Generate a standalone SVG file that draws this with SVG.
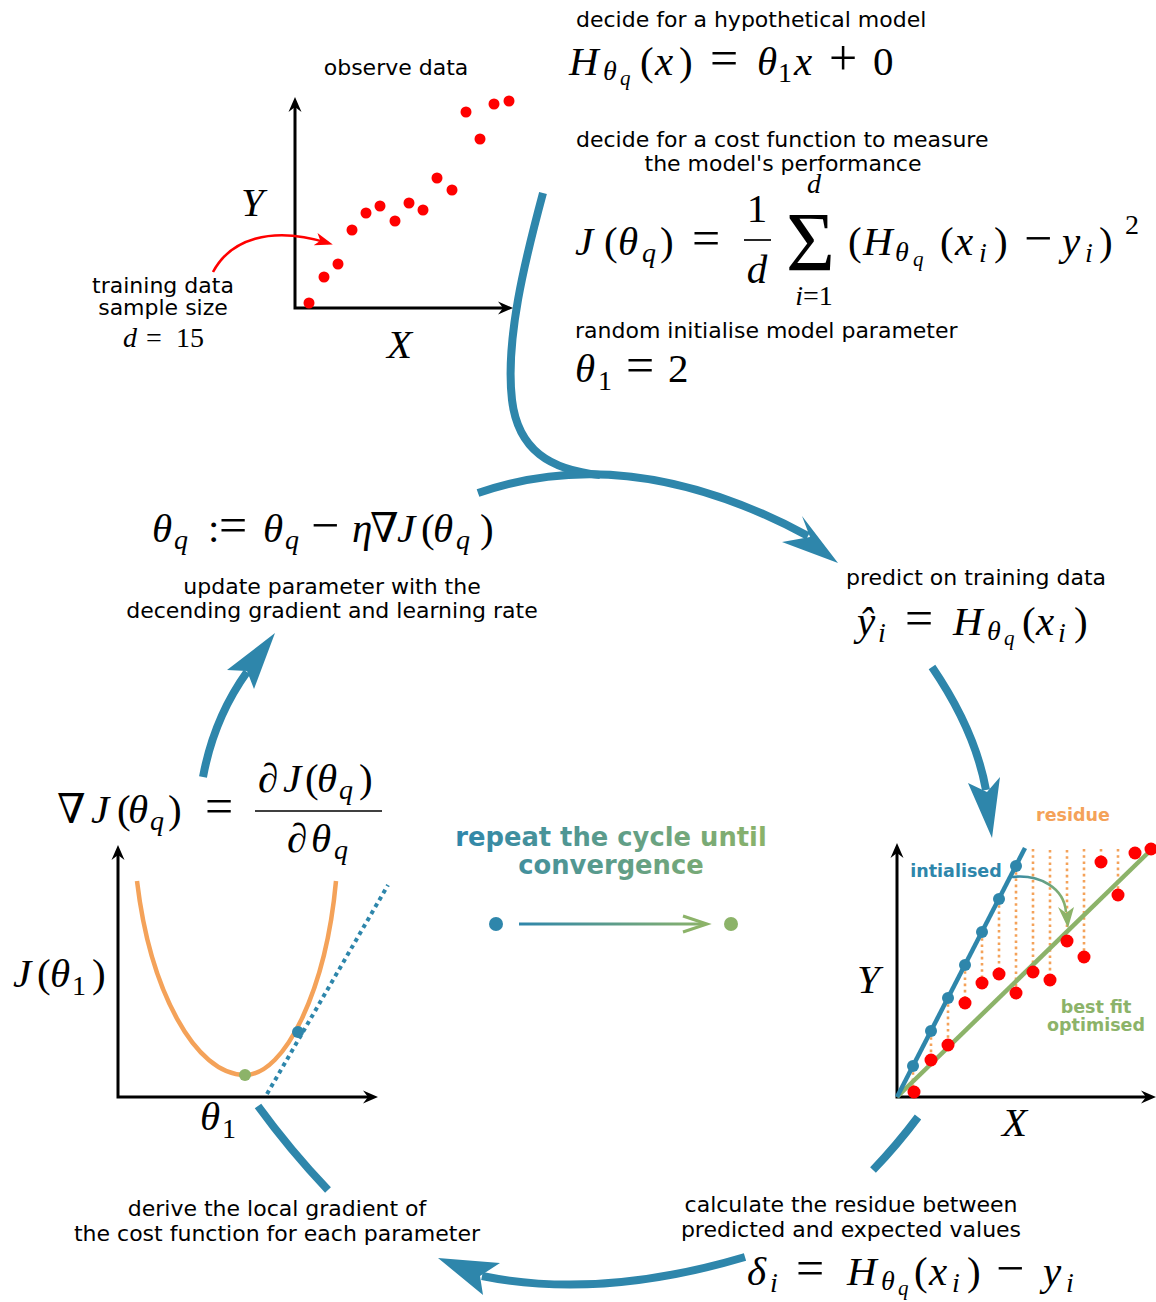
<svg xmlns="http://www.w3.org/2000/svg" width="1156" height="1302" viewBox="0 0 1156 1302">
<defs>
<style>
.t{font-family:"DejaVu Sans",sans-serif;font-size:22px;fill:#000}
.c{text-anchor:middle}
.m{font-family:"Liberation Serif","DejaVu Serif",serif;font-size:41px;fill:#000}
.i{font-style:italic}
.s{font-size:28px}
.ss{font-size:21px}
.op{font-size:50px}
.b{font-family:"DejaVu Sans",sans-serif;font-weight:bold;font-size:17.5px}
.rp{font-family:"DejaVu Sans",sans-serif;font-weight:bold;font-size:25.8px;text-anchor:middle}
.ax{stroke:#000;stroke-width:3;fill:none;marker-start:url(#ahs);marker-end:url(#ah)}
.flow{stroke:#2e86ab;stroke-width:8;fill:none}
.head{fill:#2e86ab}
.res{stroke:#f4a259;stroke-width:2.6;stroke-dasharray:2.6 3.6}
.rd{fill:#ff0000}
.bd{fill:#2e86ab}
</style>
<marker id="ah" viewBox="-8 -8 20 16" refX="0" refY="0" markerWidth="20" markerHeight="16" markerUnits="userSpaceOnUse" orient="auto">
<path d="M10,0 L-5,-6.5 L0,0 L-5,6.5 Z" fill="#000"/>
</marker>
<marker id="ahs" viewBox="-8 -8 20 16" refX="0" refY="0" markerWidth="20" markerHeight="16" markerUnits="userSpaceOnUse" orient="auto-start-reverse">
<path d="M10,0 L-5,-6.5 L0,0 L-5,6.5 Z" fill="#000"/>
</marker>
<marker id="rah" viewBox="-14 -8 24 16" refX="0" refY="0" markerWidth="24" markerHeight="16" markerUnits="userSpaceOnUse" orient="auto">
<path d="M5,0 L-13,-6.5 L-8,0 L-13,6.5 Z" fill="#ff0000"/>
</marker>
<linearGradient id="gt" gradientUnits="userSpaceOnUse" x1="455" y1="0" x2="768" y2="0">
<stop offset="0" stop-color="#2e86ab"/><stop offset="1" stop-color="#8cb369"/>
</linearGradient>
<linearGradient id="gl" gradientUnits="userSpaceOnUse" x1="519" y1="0" x2="708" y2="0">
<stop offset="0" stop-color="#2e86ab"/><stop offset="1" stop-color="#8cb369"/>
</linearGradient>
<linearGradient id="gc" gradientUnits="userSpaceOnUse" x1="1012" y1="0" x2="1068" y2="0">
<stop offset="0" stop-color="#2e86ab"/><stop offset="1" stop-color="#8cb369"/>
</linearGradient>
</defs>
<rect width="1156" height="1302" fill="#fff"/>

<g id="connectors">
<path class="flow" d="M543,193 C525,260 505,340 512,400 C518,450 550,470 600,475"/>
<path class="flow" d="M478,493 Q630,440 808,536"/>
<polygon class="head" points="838,563 802,516 810,537 782,542"/>
<path class="flow" d="M932,667 Q975,730 986,790"/>
<polygon class="head" points="992,838 968,783 987,792 1000,777"/>
<path class="flow" d="M918,1117 Q897,1145 873,1170"/>
<path class="flow" d="M745,1257 Q600,1300 482,1276"/>
<polygon class="head" points="438,1258 500,1263 480,1276 483,1295"/>
<path class="flow" d="M258,1106 Q290,1150 328,1190"/>
<path class="flow" d="M203,777 Q214,718 247,672"/>
<polygon class="head" points="275,633 227,670 247,671 254,689"/>
</g>

<g id="observe-data">
<text class="t c" x="396" y="75">observe data</text>
<path class="ax" d="M295,107 L295,308 L503,308"/>
<text class="m i" x="241" y="216">Y</text>
<text class="m i" x="387" y="358">X</text>
<g class="rd">
<circle cx="309" cy="303" r="5.5"/><circle cx="324" cy="277" r="5.5"/><circle cx="338" cy="264" r="5.5"/>
<circle cx="352" cy="230" r="5.5"/><circle cx="366" cy="213" r="5.5"/><circle cx="380" cy="206" r="5.5"/>
<circle cx="395" cy="221" r="5.5"/><circle cx="409" cy="203" r="5.5"/><circle cx="423" cy="210" r="5.5"/>
<circle cx="437" cy="178" r="5.5"/><circle cx="452" cy="190" r="5.5"/><circle cx="466" cy="112" r="5.5"/>
<circle cx="480" cy="139" r="5.5"/><circle cx="494" cy="104" r="5.5"/><circle cx="509" cy="101" r="5.5"/>
</g>
<path d="M213,272 C230,240 270,225 328,243" stroke="#ff0000" stroke-width="2.6" fill="none" marker-end="url(#rah)"/>
<text class="t c" x="163" y="293">training data</text>
<text class="t c" x="163" y="315">sample size</text>
<text class="m s" y="347"><tspan class="i" x="123">d</tspan><tspan x="146">=</tspan><tspan x="176">15</tspan></text>
</g>

<g id="hypothesis">
<text class="t" x="576" y="27">decide for a hypothetical model</text>
<text class="m" y="75"><tspan class="i" x="569">H</tspan><tspan class="i s" x="603" y="80">θ</tspan><tspan class="i ss" x="620" y="85">q</tspan><tspan x="640" y="75">(</tspan><tspan class="i" x="655">x</tspan><tspan x="679">)</tspan><tspan class="op" x="710">=</tspan><tspan class="i" x="757">θ</tspan><tspan class="s" x="778" y="82">1</tspan><tspan class="i" x="794" y="75">x</tspan><tspan class="op" x="829">+</tspan><tspan x="873">0</tspan></text>
</g>

<g id="cost-function">
<text class="t" x="576" y="147">decide for a cost function to measure</text>
<text class="t c" x="783" y="171">the model's performance</text>
<text class="m" y="255"><tspan class="i" x="575">J</tspan><tspan x="604">(</tspan><tspan class="i" x="618">θ</tspan><tspan class="i s" x="642" y="262">q</tspan><tspan x="660" y="255">)</tspan><tspan class="op" x="692">=</tspan></text>
<text class="m c" x="757" y="222">1</text>
<line x1="744" y1="240" x2="771" y2="240" stroke="#000" stroke-width="1.7"/>
<text class="m c i" x="757" y="283">d</text>
<text class="m" x="786" y="271" style="font-size:84px">Σ</text>
<text class="m s i c" x="814" y="193">d</text>
<text class="m s c" x="814" y="305"><tspan class="i">i</tspan>=1</text>
<text class="m" y="255"><tspan x="848">(</tspan><tspan class="i" x="863">H</tspan><tspan class="i s" x="895" y="261">θ</tspan><tspan class="i ss" x="913" y="266">q</tspan><tspan x="940" y="255">(</tspan><tspan class="i" x="955">x</tspan><tspan class="i s" x="979" y="262">i</tspan><tspan x="994" y="255">)</tspan><tspan class="op" x="1024">−</tspan><tspan class="i" x="1062">y</tspan><tspan class="i s" x="1085" y="262">i</tspan><tspan x="1099" y="255">)</tspan><tspan class="s" x="1125" y="234">2</tspan></text>
</g>

<g id="initialise">
<text class="t" x="575" y="338">random initialise model parameter</text>
<text class="m" y="382"><tspan class="i" x="575">θ</tspan><tspan class="s" x="598" y="390">1</tspan><tspan class="op" x="626" y="382">=</tspan><tspan x="668">2</tspan></text>
</g>

<g id="predict">
<text class="t" x="846" y="585">predict on training data</text>
<text class="m" y="635"><tspan class="i" x="857">ŷ</tspan><tspan class="i s" x="878" y="642">i</tspan><tspan class="op" x="905" y="635">=</tspan><tspan class="i" x="953">H</tspan><tspan class="i s" x="987" y="640">θ</tspan><tspan class="i ss" x="1004" y="645">q</tspan><tspan x="1022" y="635">(</tspan><tspan class="i" x="1036">x</tspan><tspan class="i s" x="1058" y="642">i</tspan><tspan x="1074" y="635">)</tspan></text>
</g>

<g id="residue-plot">
<path class="ax" d="M897,853 L897,1097 L1146,1097"/>
<text class="m i" x="857" y="993">Y</text>
<text class="m i" x="1002" y="1136">X</text>
<g>
<line class="res" x1="913" y1="1066" x2="913" y2="1092"/>
<line class="res" x1="931" y1="1031" x2="931" y2="1060"/>
<line class="res" x1="948" y1="998" x2="948" y2="1045"/>
<line class="res" x1="965" y1="965" x2="965" y2="1003"/>
<line class="res" x1="982" y1="932" x2="982" y2="983"/>
<line class="res" x1="999" y1="899" x2="999" y2="974"/>
<line class="res" x1="1016" y1="866" x2="1016" y2="993"/>
<line class="res" x1="1033" y1="849" x2="1033" y2="972"/>
<line class="res" x1="1050" y1="850" x2="1050" y2="980"/>
<line class="res" x1="1067" y1="850" x2="1067" y2="941"/>
<line class="res" x1="1084" y1="849" x2="1084" y2="957"/>
<line class="res" x1="1101" y1="849" x2="1101" y2="862"/>
<line class="res" x1="1118" y1="849" x2="1118" y2="895"/>
</g>
<line x1="897" y1="1097" x2="1153" y2="848" stroke="#8cb369" stroke-width="4.5"/>
<line x1="897" y1="1097" x2="1025" y2="848" stroke="#2e86ab" stroke-width="4.5"/>
<g class="bd">
<circle cx="913" cy="1066" r="6"/><circle cx="931" cy="1031" r="6"/><circle cx="948" cy="998" r="6"/>
<circle cx="965" cy="965" r="6"/><circle cx="982" cy="932" r="6"/><circle cx="999" cy="899" r="6"/>
<circle cx="1016" cy="866" r="6"/>
</g>
<g class="rd">
<circle cx="914" cy="1092" r="6.5"/><circle cx="931" cy="1060" r="6.5"/><circle cx="948" cy="1045" r="6.5"/>
<circle cx="965" cy="1003" r="6.5"/><circle cx="982" cy="983" r="6.5"/><circle cx="999" cy="974" r="6.5"/>
<circle cx="1016" cy="993" r="6.5"/><circle cx="1033" cy="972" r="6.5"/><circle cx="1050" cy="980" r="6.5"/>
<circle cx="1067" cy="941" r="6.5"/><circle cx="1084" cy="957" r="6.5"/><circle cx="1101" cy="862" r="6.5"/>
<circle cx="1118" cy="895" r="6.5"/><circle cx="1135" cy="853" r="6.5"/><circle cx="1151" cy="849" r="6.5"/>
</g>
<path d="M1012,877 C1040,874 1064,888 1066,912" stroke="url(#gc)" stroke-width="2.6" fill="none"/>
<polygon points="1068,928 1058,907 1066,913 1074,907" fill="#8cb369"/>
<text class="b c" x="1073" y="821" fill="#f4a259">residue</text>
<text class="b c" x="956" y="877" fill="#2e86ab">intialised</text>
<text class="b c" x="1096" y="1013" fill="#8cb369">best fit</text>
<text class="b c" x="1096" y="1031" fill="#8cb369">optimised</text>
</g>

<g id="residue">
<text class="t c" x="851" y="1212">calculate the residue between</text>
<text class="t c" x="851" y="1237">predicted and expected values</text>
<text class="m" y="1285"><tspan class="i" x="747">δ</tspan><tspan class="i s" x="770" y="1292">i</tspan><tspan class="op" x="796" y="1285">=</tspan><tspan class="i" x="847">H</tspan><tspan class="i s" x="881" y="1290">θ</tspan><tspan class="i ss" x="898" y="1295">q</tspan><tspan x="914" y="1285">(</tspan><tspan class="i" x="929">x</tspan><tspan class="i s" x="952" y="1292">i</tspan><tspan x="967" y="1285">)</tspan><tspan class="op" x="996">−</tspan><tspan class="i" x="1043">y</tspan><tspan class="i s" x="1066" y="1292">i</tspan></text>
</g>

<g id="gradient">
<text class="t c" x="277" y="1216">derive the local gradient of</text>
<text class="t c" x="277" y="1241">the cost function for each parameter</text>
<text class="m" y="823"><tspan x="57">∇</tspan><tspan class="i" x="91">J</tspan><tspan x="117">(</tspan><tspan class="i" x="128">θ</tspan><tspan class="i s" x="150" y="830">q</tspan><tspan x="168" y="823">)</tspan><tspan class="op" x="205">=</tspan></text>
<text class="m" y="792"><tspan class="i" x="258">∂</tspan><tspan class="i" x="283">J</tspan><tspan x="305">(</tspan><tspan class="i" x="317">θ</tspan><tspan class="i s" x="339" y="799">q</tspan><tspan x="359" y="792">)</tspan></text>
<line x1="255" y1="811" x2="382" y2="811" stroke="#000" stroke-width="1.7"/>
<text class="m" y="852"><tspan class="i" x="287">∂</tspan><tspan class="i" x="311">θ</tspan><tspan class="i s" x="334" y="859">q</tspan></text>
<path class="ax" d="M118,855 L118,1097 L368,1097"/>
<text class="m" y="987"><tspan class="i" x="13">J</tspan><tspan x="37">(</tspan><tspan class="i" x="50">θ</tspan><tspan class="s" x="72" y="995">1</tspan><tspan x="92" y="987">)</tspan></text>
<text class="m" y="1130"><tspan class="i" x="200">θ</tspan><tspan class="s" x="222" y="1138">1</tspan></text>
<path d="M137,881 C150,990 195,1075 245,1075 C285,1075 326,990 336,881" stroke="#f4a259" stroke-width="4.5" fill="none"/>
<line x1="267" y1="1094" x2="388" y2="885" stroke="#2e86ab" stroke-width="4" stroke-dasharray="4 4"/>
<circle cx="298" cy="1032" r="6" fill="#2e86ab"/>
<circle cx="245" cy="1075" r="6" fill="#8cb369"/>
</g>

<g id="update">
<text class="m" y="542"><tspan class="i" x="152">θ</tspan><tspan class="i s" x="174" y="549">q</tspan><tspan x="208" y="542">:</tspan><tspan class="op" x="219">=</tspan><tspan class="i" x="263">θ</tspan><tspan class="i s" x="285" y="549">q</tspan><tspan class="op" x="311" y="542">−</tspan><tspan class="i" x="352">η</tspan><tspan x="370">∇</tspan><tspan class="i" x="397">J</tspan><tspan x="421">(</tspan><tspan class="i" x="433">θ</tspan><tspan class="i s" x="456" y="549">q</tspan><tspan x="480" y="542">)</tspan></text>
<text class="t c" x="332" y="594">update parameter with the</text>
<text class="t c" x="332" y="618">decending gradient and learning rate</text>
</g>

<g id="repeat">
<text class="rp" x="611" y="846" fill="url(#gt)">repeat the cycle until</text>
<text class="rp" x="611" y="874" fill="url(#gt)">convergence</text>
<circle cx="496" cy="924" r="7" fill="#2e86ab"/>
<circle cx="731" cy="924" r="7" fill="#8cb369"/>
<line x1="519" y1="924" x2="706" y2="924" stroke="url(#gl)" stroke-width="3"/>
<polyline points="683,916 707,924 683,932" stroke="#8cb369" stroke-width="3" fill="none"/>
</g>
</svg>
